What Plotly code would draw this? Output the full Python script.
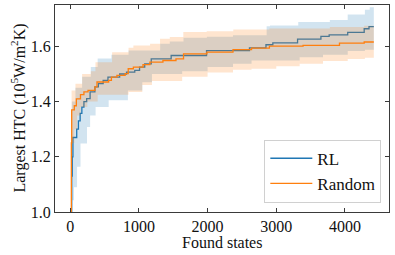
import plotly.graph_objects as go

# ---- data ----
rl_x = [20, 22, 30, 40, 95, 120, 145, 170, 200, 240, 290, 360, 410, 480, 550, 720, 820, 940, 1010, 1085,
        1180, 1470, 1985, 2610, 2850, 2950, 3310, 3650, 3770, 4040, 4280, 4350, 4420]
rl_mean = [1.00, 1.13, 1.20, 1.27, 1.30, 1.33, 1.357, 1.38, 1.40, 1.411, 1.435, 1.453, 1.465, 1.477, 1.489,
           1.50, 1.507, 1.513, 1.525, 1.537, 1.555, 1.567, 1.585, 1.595, 1.606, 1.613, 1.626, 1.636, 1.642,
           1.651, 1.664, 1.672, 1.672]

rl_lo_x = [20, 30, 55, 100, 150, 245, 290, 370, 560, 840, 1050, 1190, 1630, 2000, 2370, 2640, 3340, 3680,
           4040, 4290, 4420]
rl_lo = [1.00, 1.043, 1.09, 1.164, 1.248, 1.308, 1.35, 1.38, 1.405, 1.44, 1.47, 1.50, 1.51, 1.525, 1.537,
         1.549, 1.561, 1.57, 1.583, 1.588, 1.588]

rl_hi_x = [20, 25, 77, 174, 300, 400, 600, 850, 1310, 1450, 1650, 1990, 2370, 2860, 2910, 3320, 3780,
           4040, 4290, 4360, 4420]
rl_hi = [1.00, 1.40, 1.45, 1.49, 1.525, 1.556, 1.57, 1.585, 1.61, 1.618, 1.631, 1.635, 1.64, 1.673, 1.676,
         1.688, 1.696, 1.716, 1.733, 1.742, 1.742]

rd_x = [15, 17, 22, 60, 90, 150, 200, 260, 360, 390, 560, 600, 680, 800, 845, 920, 1060, 1160, 1350, 1540,
        1650, 1990, 2370, 2640, 2900, 3390, 3920, 4280, 4420]
rd_mean = [1.00, 1.25, 1.37, 1.385, 1.41, 1.425, 1.435, 1.441, 1.453, 1.471, 1.477, 1.489, 1.495, 1.501,
           1.519, 1.525, 1.534, 1.543, 1.549, 1.555, 1.573, 1.579, 1.588, 1.594, 1.601, 1.604, 1.612,
           1.616, 1.616]

rd_lo_x = [15, 20, 30, 60, 100, 150, 250, 400, 850, 1050, 1190, 1630, 2000, 2370, 2640, 3000, 3340, 3680,
           4040, 4290, 4420]
rd_lo = [1.00, 1.15, 1.25, 1.30, 1.35, 1.38, 1.40, 1.425, 1.435, 1.46, 1.475, 1.49, 1.505, 1.515, 1.519,
         1.528, 1.537, 1.547, 1.554, 1.559, 1.559]

rd_hi_x = [15, 20, 77, 174, 300, 368, 610, 850, 920, 1163, 1308, 1450, 1647, 1987, 2374, 2900, 3780,
           4280, 4420]
rd_hi = [1.00, 1.44, 1.465, 1.50, 1.51, 1.543, 1.579, 1.595, 1.603, 1.61, 1.628, 1.634, 1.652, 1.655,
         1.661, 1.665, 1.67, 1.675, 1.675]

x_ticks = [0, 1000, 2000, 3000, 4000]
y_ticks = [1.0, 1.2, 1.4, 1.6]
y_tick_text = ["1.0", "1.2", "1.4", "1.6"]

C_BLUE = "#1f77b4"
C_ORANGE = "#ff7f0e"
F_BLUE = "rgba(31,119,180,0.2)"
F_ORANGE = "rgba(255,127,14,0.2)"
FONT = "Liberation Serif, Times New Roman, serif"
TXT = "#111111"

fig = go.Figure()


def band(xl, yl, xh, yh, fill):
    fig.add_trace(go.Scatter(x=xl, y=yl, mode="lines", line=dict(width=0, shape="hv"),
                             showlegend=False, hoverinfo="skip"))
    fig.add_trace(go.Scatter(x=xh, y=yh, mode="lines", line=dict(width=0, shape="hv"),
                             fill="tonexty", fillcolor=fill, showlegend=False, hoverinfo="skip"))


band(rl_lo_x, rl_lo, rl_hi_x, rl_hi, F_BLUE)
fig.add_trace(go.Scatter(x=rl_x, y=rl_mean, mode="lines", name="RL",
                         line=dict(color=C_BLUE, width=1.3, shape="hv")))
band(rd_lo_x, rd_lo, rd_hi_x, rd_hi, F_ORANGE)
fig.add_trace(go.Scatter(x=rd_x, y=rd_mean, mode="lines", name="Random",
                         line=dict(color=C_ORANGE, width=1.3, shape="hv")))

axis_common = dict(showgrid=False, zeroline=False, showline=True, linecolor="#3a3a3a", linewidth=1,
                   mirror="ticks", ticks="inside", ticklen=4, tickwidth=1, tickcolor="#3a3a3a",
                   tickfont=dict(family=FONT, size=16, color=TXT), automargin=False)

fig.update_xaxes(range=[-221, 4641], tickvals=x_ticks, ticktext=[str(v) for v in x_ticks], **axis_common)
fig.update_yaxes(range=[1.0, 1.75], tickvals=y_ticks, ticktext=y_tick_text, **axis_common)

fig.add_annotation(text="Found states", xref="paper", yref="paper", x=0.5, y=0,
                   xanchor="center", yanchor="middle", yshift=-30, showarrow=False,
                   font=dict(family=FONT, size=16, color=TXT))
fig.add_annotation(text="Largest HTC (10<sup>5</sup>W/m<sup>2</sup>K)", xref="paper", yref="paper",
                   x=0, y=0.5, xanchor="center", yanchor="middle", xshift=-36, textangle=-90,
                   showarrow=False, font=dict(family=FONT, size=16, color=TXT))

fig.update_layout(
    width=395, height=255,
    margin=dict(l=55, r=6, t=5, b=43, autoexpand=False),
    paper_bgcolor="white", plot_bgcolor="white",
    showlegend=True,
    legend=dict(x=0.977, y=0.045, xanchor="right", yanchor="bottom", traceorder="normal",
                bgcolor="rgba(255,255,255,0.85)", bordercolor="#d0d0d0", borderwidth=1,
                font=dict(family=FONT, size=17, color=TXT), itemwidth=42),
)

fig.write_html("out.html", config={"displayModeBar": False},
               post_script="document.body.style.margin='0';document.body.style.overflow='hidden';")
